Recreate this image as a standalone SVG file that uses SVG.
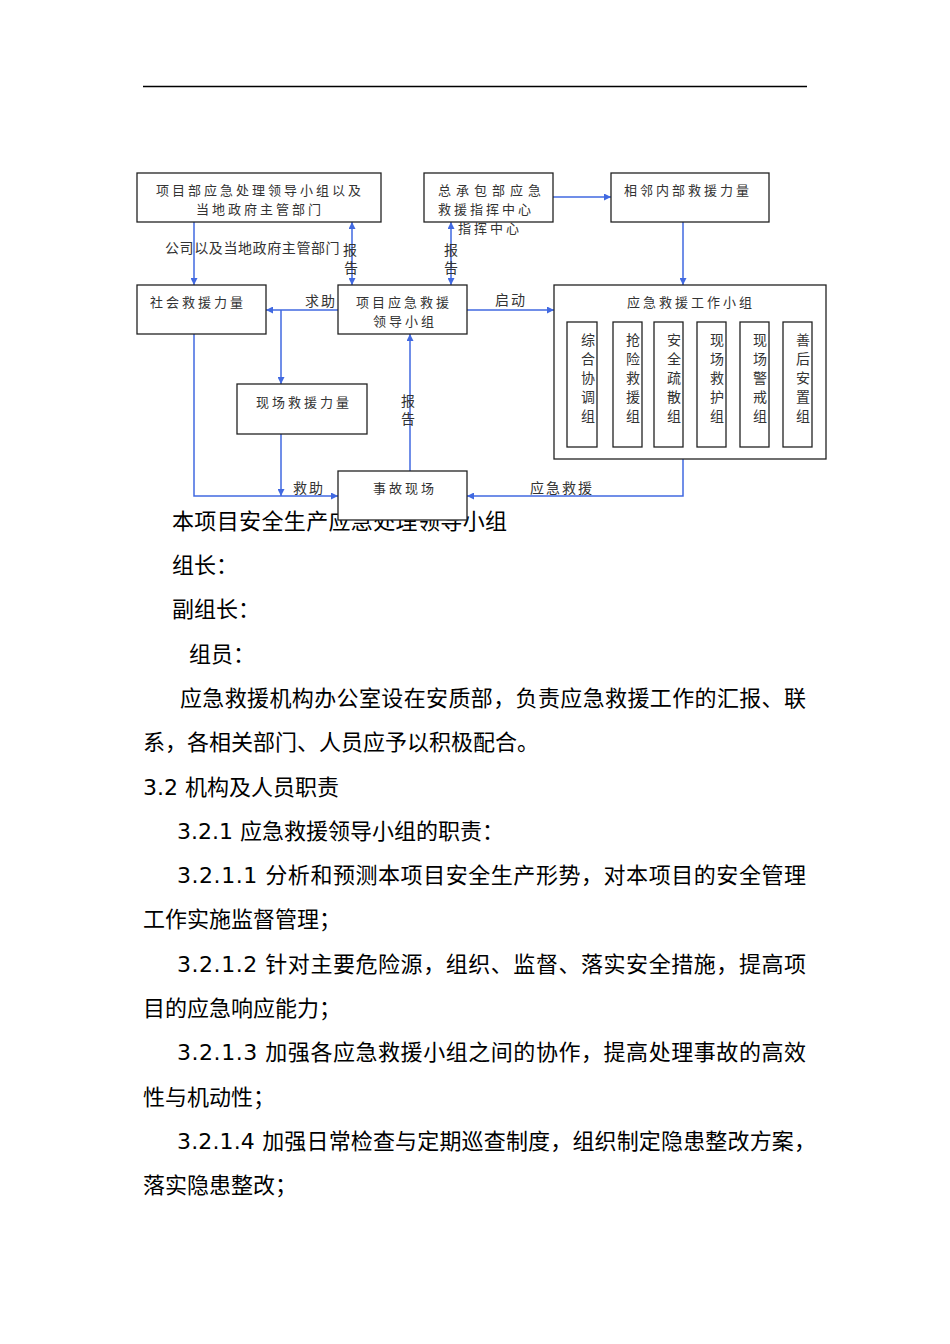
<svg xmlns="http://www.w3.org/2000/svg" width="950" height="1344" viewBox="0 0 950 1344">
<style>
.bx{fill:#fff;stroke:#222;stroke-width:1.3}
.bt{font-family:"Noto Sans CJK SC","DejaVu Sans",sans-serif;font-size:13px;fill:#333;letter-spacing:3px}
.bt.wide{letter-spacing:5px}
.lb{font-family:"Noto Sans CJK SC","DejaVu Sans",sans-serif;font-size:14px;fill:#333}
.vt{font-family:"Noto Sans CJK SC","DejaVu Sans",sans-serif;font-size:14px;fill:#333;text-anchor:middle}
.ln{fill:none;stroke:#4169e1;stroke-width:1.5}
.body{font-family:"DejaVu Sans","Noto Sans CJK SC",sans-serif;font-size:22px;fill:#000}
</style>
<defs>
<marker id="ah" viewBox="0 0 10 10" refX="10" refY="5" markerWidth="7" markerHeight="7" markerUnits="userSpaceOnUse" orient="auto-start-reverse">
<path d="M0,0 L10,5 L0,10 z" fill="#4169e1"/>
</marker>
</defs>
<rect width="950" height="1344" fill="#fff"/>
<line x1="143" y1="86.5" x2="807" y2="86.5" stroke="#000" stroke-width="1.5"/>

<g id="body-text" class="body">
<text x="172" y="529" textLength="335" lengthAdjust="spacing">本项目安全生产应急处理领导小组</text>
<text x="172" y="573">组长：</text>
<text x="172" y="617">副组长：</text>
<text x="189" y="662">组员：</text>
<text x="180" y="706" textLength="626" lengthAdjust="spacing">应急救援机构办公室设在安质部，负责应急救援工作的汇报、联</text>
<text x="143" y="750">系，各相关部门、人员应予以积极配合。</text>
<text x="143" y="795">3.2 机构及人员职责</text>
<text x="177" y="839">3.2.1 应急救援领导小组的职责：</text>
<text x="177" y="883" textLength="629" lengthAdjust="spacing">3.2.1.1 分析和预测本项目安全生产形势，对本项目的安全管理</text>
<text x="143" y="927">工作实施监督管理；</text>
<text x="177" y="972" textLength="629" lengthAdjust="spacing">3.2.1.2 针对主要危险源，组织、监督、落实安全措施，提高项</text>
<text x="143" y="1016">目的应急响应能力；</text>
<text x="177" y="1060" textLength="629" lengthAdjust="spacing">3.2.1.3 加强各应急救援小组之间的协作，提高处理事故的高效</text>
<text x="143" y="1105">性与机动性；</text>
<text x="177" y="1149" textLength="639" lengthAdjust="spacing">3.2.1.4 加强日常检查与定期巡查制度，组织制定隐患整改方案，</text>
<text x="143" y="1193">落实隐患整改；</text>
</g>

<g id="connectors">
<line class="ln" x1="194" y1="222" x2="194" y2="285" marker-end="url(#ah)"/>
<line class="ln" x1="352" y1="222" x2="352" y2="285" marker-start="url(#ah)" marker-end="url(#ah)"/>
<line class="ln" x1="451" y1="222" x2="451" y2="285" marker-start="url(#ah)" marker-end="url(#ah)"/>
<line class="ln" x1="553" y1="197" x2="611" y2="197" marker-end="url(#ah)"/>
<line class="ln" x1="683" y1="222" x2="683" y2="285" marker-end="url(#ah)"/>
<line class="ln" x1="338" y1="310" x2="266" y2="310" marker-end="url(#ah)"/>
<line class="ln" x1="467" y1="310" x2="554" y2="310" marker-end="url(#ah)"/>
<line class="ln" x1="281" y1="310" x2="281" y2="384" marker-end="url(#ah)"/>
<line class="ln" x1="281" y1="434" x2="281" y2="496" marker-end="url(#ah)"/>
<polyline class="ln" points="194,334 194,496 338,496" marker-end="url(#ah)"/>
<line class="ln" x1="410" y1="471" x2="410" y2="334" marker-end="url(#ah)"/>
<polyline class="ln" points="683,459 683,496 467,496" marker-end="url(#ah)"/>
<text class="lb" x="165" y="253" letter-spacing="0.6">公司以及当地政府主管部门</text>
<text class="vt" x="350" y="255">报</text>
<text class="vt" x="351" y="273">告</text>
<text class="vt" x="451" y="255">报</text>
<text class="vt" x="451" y="273">告</text>
<text class="bt" x="458" y="233">指挥中心</text>
<text class="lb" x="305" y="306" letter-spacing="2">求助</text>
<text class="lb" x="495" y="305" letter-spacing="2">启动</text>
<text class="vt" x="408" y="406">报</text>
<text class="vt" x="408" y="424">告</text>
<text class="lb" x="293" y="493" letter-spacing="2">救助</text>
<text class="lb" x="530" y="493" letter-spacing="2">应急救援</text>
</g>

<g id="node-a">
<rect class="bx" x="137" y="173" width="244" height="49"/>
<text class="bt" x="260" y="195" text-anchor="middle">项目部应急处理领导小组以及</text>
<text class="bt" x="260" y="214" text-anchor="middle">当地政府主管部门</text>
</g>
<g id="node-b">
<rect class="bx" x="424" y="173" width="129" height="49"/>
<text class="bt wide" x="438" y="195">总承包部应急</text>
<text class="bt" x="438" y="214">救援指挥中心</text>
</g>
<g id="node-c">
<rect class="bx" x="611" y="173" width="158" height="49"/>
<text class="bt" x="624" y="195">相邻内部救援力量</text>
</g>
<g id="node-d">
<rect class="bx" x="137" y="285" width="129" height="49"/>
<text class="bt" x="150" y="307">社会救援力量</text>
</g>
<g id="node-e">
<rect class="bx" x="338" y="285" width="129" height="49"/>
<text class="bt" x="356" y="307">项目应急救援</text>
<text class="bt" x="373" y="326">领导小组</text>
</g>
<g id="node-f">
<rect class="bx" x="554" y="285" width="272" height="174"/>
<text class="bt" x="627" y="307">应急救援工作小组</text>
</g>
<g id="sub-1">
<rect class="bx" x="567" y="322" width="30" height="125"/>
<text class="vt" x="588" y="345">综</text><text class="vt" x="588" y="364">合</text><text class="vt" x="588" y="383">协</text><text class="vt" x="588" y="402">调</text><text class="vt" x="588" y="421">组</text>
</g>
<g id="sub-2">
<rect class="bx" x="613" y="322" width="29" height="125"/>
<text class="vt" x="633" y="345">抢</text><text class="vt" x="633" y="364">险</text><text class="vt" x="633" y="383">救</text><text class="vt" x="633" y="402">援</text><text class="vt" x="633" y="421">组</text>
</g>
<g id="sub-3">
<rect class="bx" x="654" y="322" width="29" height="125"/>
<text class="vt" x="674" y="345">安</text><text class="vt" x="674" y="364">全</text><text class="vt" x="674" y="383">疏</text><text class="vt" x="674" y="402">散</text><text class="vt" x="674" y="421">组</text>
</g>
<g id="sub-4">
<rect class="bx" x="697" y="322" width="29" height="125"/>
<text class="vt" x="717" y="345">现</text><text class="vt" x="717" y="364">场</text><text class="vt" x="717" y="383">救</text><text class="vt" x="717" y="402">护</text><text class="vt" x="717" y="421">组</text>
</g>
<g id="sub-5">
<rect class="bx" x="740" y="322" width="29" height="125"/>
<text class="vt" x="760" y="345">现</text><text class="vt" x="760" y="364">场</text><text class="vt" x="760" y="383">警</text><text class="vt" x="760" y="402">戒</text><text class="vt" x="760" y="421">组</text>
</g>
<g id="sub-6">
<rect class="bx" x="783" y="322" width="29" height="125"/>
<text class="vt" x="803" y="345">善</text><text class="vt" x="803" y="364">后</text><text class="vt" x="803" y="383">安</text><text class="vt" x="803" y="402">置</text><text class="vt" x="803" y="421">组</text>
</g>
<g id="node-g">
<rect class="bx" x="237" y="384" width="130" height="50"/>
<text class="bt" x="256" y="407">现场救援力量</text>
</g>
<g id="node-h">
<rect class="bx" x="338" y="471" width="129" height="49"/>
<text class="bt" x="373" y="493">事故现场</text>
</g>
</svg>
